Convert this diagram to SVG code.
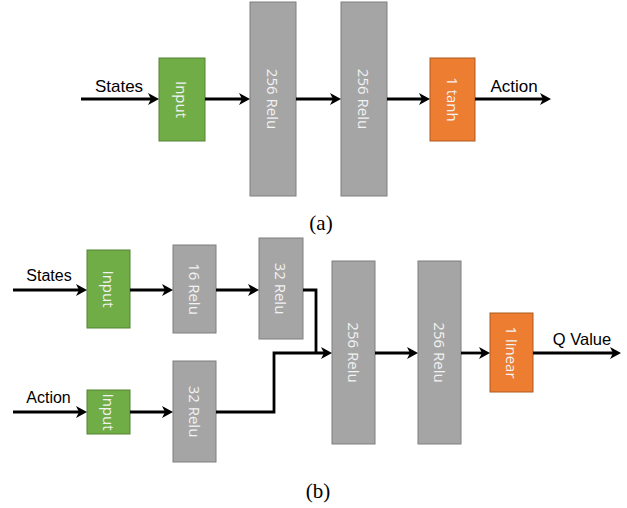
<svg xmlns="http://www.w3.org/2000/svg" width="627" height="508" viewBox="0 0 627 508">
<style>
.g{fill:#70AD47;stroke:#548235;stroke-width:1}
.r{fill:#A5A5A5;stroke:#7F7F7F;stroke-width:1}
.o{fill:#ED7D31;stroke:#AE5A21;stroke-width:1}
.bt{fill:#F2F2F2;font-family:"Open Sans","DejaVu Sans",sans-serif;font-size:15px;text-anchor:middle;dominant-baseline:central}
.lb{fill:#000;font-family:"Liberation Sans",Arial,sans-serif}
.cap{fill:#000;font-family:"Liberation Serif","Times New Roman",serif;font-size:21px;text-anchor:middle}
.c{fill:none;stroke:#000;stroke-width:2.8}
</style>
<defs>
<marker id="ah" markerUnits="userSpaceOnUse" markerWidth="14" markerHeight="14" viewBox="0 0 14 14" refX="7" refY="7" orient="auto">
<path d="M0,1 L11,7 L0,13 L3,7 Z" fill="#000"/>
</marker>
</defs>

<!-- (a) -->
<g id="a_input"><rect class="g" x="159" y="58" width="46" height="83"/><text class="bt" transform="translate(182,99.5) rotate(90)">Input</text></g>
<g id="a_relu1"><rect class="r" x="250" y="2" width="46" height="194"/><text class="bt" transform="translate(273,99) rotate(90)">256 Relu</text></g>
<g id="a_relu2"><rect class="r" x="341" y="2" width="46" height="194"/><text class="bt" transform="translate(364,99) rotate(90)">256 Relu</text></g>
<g id="a_tanh"><rect class="o" x="430" y="58" width="45" height="83"/><text class="bt" transform="translate(452.5,99.5) rotate(90)">1 tanh</text></g>

<!-- (b) -->
<g id="b_input1"><rect class="g" x="87" y="250" width="43" height="78"/><text class="bt" transform="translate(108.5,289) rotate(90)">Input</text></g>
<g id="b_relu16"><rect class="r" x="173" y="245" width="43" height="88"/><text class="bt" transform="translate(194.5,289) rotate(90)">16 Relu</text></g>
<g id="b_relu32a"><rect class="r" x="259" y="238" width="44" height="101"/><text class="bt" transform="translate(281,288.5) rotate(90)">32 Relu</text></g>
<g id="b_input2"><rect class="g" x="87" y="390" width="43" height="44"/><text class="bt" transform="translate(108.5,412) rotate(90)">Input</text></g>
<g id="b_relu32b"><rect class="r" x="173" y="361" width="43" height="101"/><text class="bt" transform="translate(194.5,411.5) rotate(90)">32 Relu</text></g>
<g id="b_relu256a"><rect class="r" x="332" y="261" width="43" height="183"/><text class="bt" transform="translate(353.5,352.5) rotate(90)">256 Relu</text></g>
<g id="b_relu256b"><rect class="r" x="418" y="261" width="43" height="183"/><text class="bt" transform="translate(439.5,352.5) rotate(90)">256 Relu</text></g>
<g id="b_linear"><rect class="o" x="490" y="313" width="43" height="79"/><text class="bt" transform="translate(511.5,352.5) rotate(90)">1 linear</text></g>

<g id="connectors">
<path class="c" marker-end="url(#ah)" d="M81,99 H155"/>
<path class="c" marker-end="url(#ah)" d="M205,99 H246"/>
<path class="c" marker-end="url(#ah)" d="M296,99 H337"/>
<path class="c" marker-end="url(#ah)" d="M387,99 H426"/>
<path class="c" marker-end="url(#ah)" d="M475,99 H547"/>

<path class="c" marker-end="url(#ah)" d="M13,290 H83"/>
<path class="c" marker-end="url(#ah)" d="M130,290 H169"/>
<path class="c" marker-end="url(#ah)" d="M216,290 H255"/>
<path class="c" d="M303,290 H316 V353"/>
<path class="c" marker-end="url(#ah)" d="M13,412 H83"/>
<path class="c" marker-end="url(#ah)" d="M130,412 H169"/>
<path class="c" marker-end="url(#ah)" d="M216,412 H274 V353 H328"/>
<path class="c" marker-end="url(#ah)" d="M375,353 H414"/>
<path class="c" marker-end="url(#ah)" d="M461,353 H486"/>
<path class="c" marker-end="url(#ah)" d="M533,353 H617"/>
</g>

<text class="lb" x="119" y="92" font-size="17" text-anchor="middle">States</text>
<text class="lb" x="514" y="92" font-size="17" text-anchor="middle">Action</text>
<text class="lb" x="49" y="281" font-size="16" text-anchor="middle">States</text>
<text class="lb" x="48.5" y="403" font-size="16" text-anchor="middle">Action</text>
<text class="lb" x="582" y="345" font-size="16.5" text-anchor="middle">Q Value</text>

<text class="cap" x="321" y="230">(a)</text>
<text class="cap" x="318" y="498">(b)</text>
</svg>
